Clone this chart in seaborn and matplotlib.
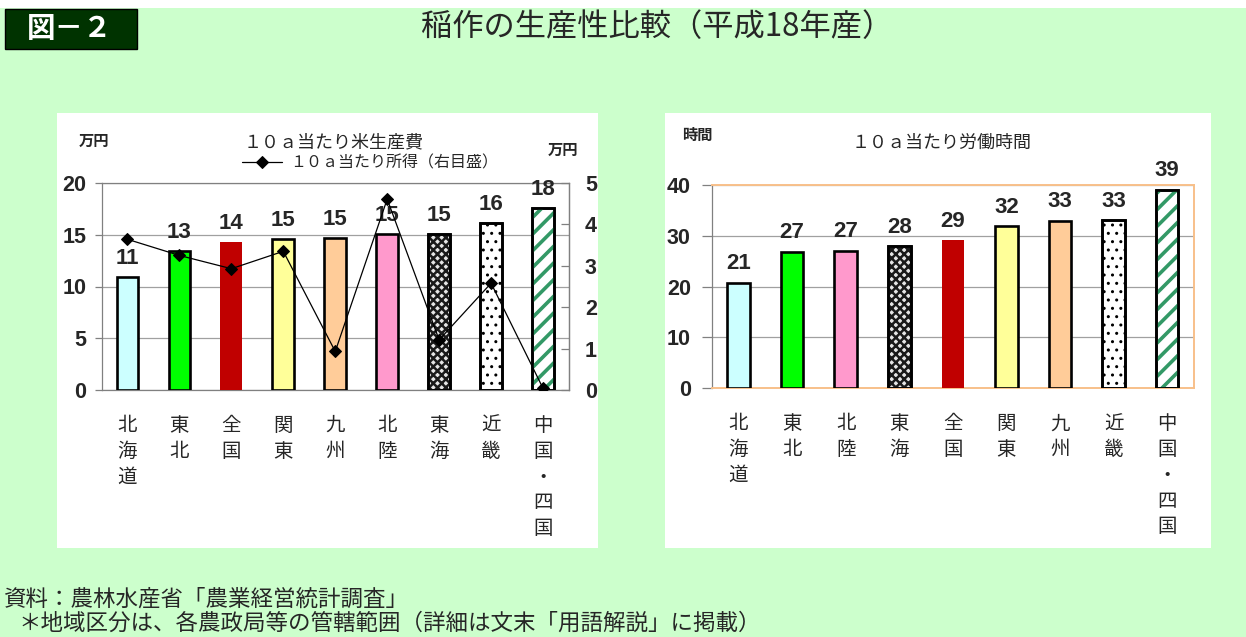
import numpy as np
import pandas as pd
import matplotlib
matplotlib.use("Agg")
import matplotlib as mpl
import matplotlib.pyplot as plt
from matplotlib.patches import Rectangle
import seaborn as sns

# 10a当たり米生産費（万円）と所得（万円・右目盛）、平成18年産
cost_regions = ["北海道", "東北", "全国", "関東", "九州", "北陸", "東海", "近畿", "中国・四国"]
cost_values = [10.9, 13.4, 14.3, 14.6, 14.7, 15.1, 15.1, 16.1, 17.6]
income_values = [3.64, 3.25, 2.93, 3.35, 0.93, 4.61, 1.21, 2.58, 0.04]

# 10a当たり労働時間（時間）
hour_regions = ["北海道", "東北", "北陸", "東海", "全国", "関東", "九州", "近畿", "中国・四国"]
hour_values = [20.8, 26.9, 27.1, 28.0, 29.2, 31.9, 33.0, 33.1, 39.1]

cost_ticks = [0, 5, 10, 15, 20]
income_ticks = [0, 1, 2, 3, 4, 5]
hour_ticks = [0, 10, 20, 30, 40]

W, H = 1246, 637
CJK = ["Noto Sans CJK JP", "DejaVu Sans"]
NUM = ["Liberation Sans", "DejaVu Sans"]

# fill / pattern for each region
STYLE = {
    "北海道": dict(face="#CCFFFF"),
    "東北": dict(face="#00FF00"),
    "全国": dict(face="#C00000", edge="none"),
    "関東": dict(face="#FFFF99"),
    "九州": dict(face="#FFCC99"),
    "北陸": dict(face="#FF99CC"),
    "東海": dict(face="#E6E6E6", hatch="xxxx", hcolor="#1A1A1A", hlw=1.8),
    "近畿": dict(face="#FFFFFF", hatch="..", hcolor="#000000", hlw=1.0),
    "中国・四国": dict(face="#FFFFFF", hatch="//", hcolor="#339966", hlw=2.6),
}

sns.set_style("white")
plt.rcParams["font.family"] = CJK
plt.rcParams["axes.unicode_minus"] = False


def fx(px):
    return px / W


def fy(py):
    return 1 - py / H


def vertical(name):
    return "\n".join(list(name))


def draw_bars(ax, regions, values):
    df = pd.DataFrame({"region": regions, "value": values})
    palette = {r: STYLE[r]["face"] for r in regions}
    sns.barplot(data=df, x="region", y="value", hue="region", order=regions,
                hue_order=regions, palette=palette, saturation=1, width=0.42,
                legend=False, edgecolor="black", linewidth=1.9, zorder=3, ax=ax)
    for p in list(ax.patches):
        i = int(round(p.get_x() + p.get_width() / 2))
        st = STYLE[regions[i]]
        if st.get("edge") == "none":
            p.set_edgecolor("none")
        if "hatch" in st:
            with mpl.rc_context({"hatch.linewidth": st["hlw"]}):
                h = Rectangle(p.get_xy(), p.get_width(), p.get_height(),
                              facecolor="none", edgecolor=st["hcolor"],
                              hatch=st["hatch"], linewidth=0, zorder=3.1)
            if hasattr(h, "set_hatch_linewidth"):
                h.set_hatch_linewidth(st["hlw"])
            ax.add_patch(h)
            ax.add_patch(Rectangle(p.get_xy(), p.get_width(), p.get_height(),
                                   facecolor="none", edgecolor="black",
                                   linewidth=1.9, zorder=3.2))
    for i, v in enumerate(values):
        ax.annotate(f"{v:.0f}", xy=(i, v), xytext=(0, 9.5),
                    textcoords="offset points", ha="center", va="baseline",
                    fontsize=16, fontweight="bold", family=NUM,
                    annotation_clip=False, zorder=6)
    ax.set_xlabel("")
    ax.set_ylabel("")
    ax.set_xticks(range(len(regions)))
    ax.set_xticklabels([vertical(r) for r in regions], fontsize=14,
                       linespacing=1.3, va="top", family=CJK)
    ax.set_xticks(np.arange(-0.5, len(regions), 1), minor=True)
    ax.tick_params(axis="x", which="major", length=0, pad=18)
    ax.tick_params(axis="x", which="minor", length=5, width=0.9,
                   color="#808080", direction="out")
    ax.set_xlim(-0.5, len(regions) - 0.5)
    ax.yaxis.grid(True, color="#A0A0A0", linewidth=0.9)
    ax.set_axisbelow(True)
    ax.set_facecolor("white")


fig = plt.figure(figsize=(W / 100, H / 100), dpi=100)
fig.patch.set_facecolor("white")

# background, panels and header box
fig.add_artist(Rectangle((0, 0), 1, fy(8), transform=fig.transFigure,
                         facecolor="#CCFFCC", edgecolor="none", zorder=-3))
for x0, x1 in [(57, 598), (665, 1211)]:
    fig.add_artist(Rectangle((fx(x0), fy(548)), fx(x1 - x0), (548 - 113) / H,
                             transform=fig.transFigure, facecolor="white",
                             edgecolor="none", zorder=-2))
fig.add_artist(Rectangle((fx(5), fy(49)), fx(132), 40 / H, transform=fig.transFigure,
                         facecolor="#003300", edgecolor="#000000", linewidth=1,
                         zorder=-1))
fig.text(fx(70), fy(29), "図－２", color="white", fontsize=20.5, fontweight="bold",
         ha="center", va="center", family=CJK)
fig.text(fx(657), fy(27), "稲作の生産性比較（平成18年産）", fontsize=22.5,
         ha="center", va="center", family=CJK)

# ---- left chart: production cost and income ----
ax1 = fig.add_axes([fx(101.5), fy(390), fx(467.5), 207 / H])
draw_bars(ax1, cost_regions, cost_values)
ax1.set_ylim(0, 20)
ax1.set_yticks(cost_ticks)
ax1.set_yticklabels([str(t) for t in cost_ticks], fontsize=15.5, fontweight="bold",
                    family=NUM)
ax1.tick_params(axis="y", length=5, width=0.9, color="#808080", pad=6,
                direction="out", left=True)
for s in ax1.spines.values():
    s.set_color("#808080")
    s.set_linewidth(0.9)

ax2 = ax1.twinx()
sns.lineplot(x=np.arange(len(cost_regions)), y=income_values, ax=ax2,
             color="black", linewidth=0.9, marker="D", markersize=6.5,
             markeredgecolor="black", markerfacecolor="black",
             label="１０ａ当たり所得（右目盛）", zorder=5)
ax2.set_ylim(0, 5)
ax2.set_yticks(income_ticks)
ax2.set_yticklabels([str(t) for t in income_ticks], fontsize=15.5, fontweight="bold",
                    family=NUM)
ax2.tick_params(axis="y", length=6, width=0.9, color="#808080", pad=11.5,
                direction="in", right=True)
ax2.set_xlim(-0.5, len(cost_regions) - 0.5)
for s in ax2.spines.values():
    s.set_visible(False)
ax2.spines["right"].set_visible(True)
ax2.spines["right"].set_color("#808080")
ax2.spines["right"].set_linewidth(0.9)
ax2.set_ylabel("")
handles, labels = ax2.get_legend_handles_labels()
if ax2.get_legend() is not None:
    ax2.get_legend().remove()
fig.legend(handles, labels, loc="center left", bbox_to_anchor=(fx(242), fy(163)),
           bbox_transform=fig.transFigure, frameon=False,
           handlelength=2.5, handletextpad=0.5, borderpad=0, borderaxespad=0,
           prop={"family": CJK, "size": 11.5})

fig.text(fx(94), fy(141), "万円", fontsize=11, fontweight="bold", ha="center",
         va="center", family=CJK)
fig.text(fx(334), fy(142), "１０ａ当たり米生産費", fontsize=13, ha="center",
         va="center", family=CJK)
fig.text(fx(563), fy(150), "万円", fontsize=11, fontweight="bold", ha="center",
         va="center", family=CJK)

# ---- right chart: working hours ----
ax3 = fig.add_axes([fx(711.7), fy(388.3), fx(482.3), 203.3 / H])
draw_bars(ax3, hour_regions, hour_values)
ax3.set_ylim(0, 40)
ax3.set_yticks(hour_ticks)
ax3.set_yticklabels([str(t) for t in hour_ticks], fontsize=15.5, fontweight="bold",
                    family=NUM)
ax3.tick_params(axis="y", length=7, width=0.9, color="#808080", pad=8,
                direction="out", left=True)
for k, s in ax3.spines.items():
    s.set_color("#808080" if k == "left" else "#F8C08A")
    s.set_linewidth(0.9 if k == "left" else 1.4)

fig.text(fx(697), fy(135), "時間", fontsize=11, fontweight="bold", ha="center",
         va="center", family=CJK)
fig.text(fx(942), fy(143), "１０ａ当たり労働時間", fontsize=13, ha="center",
         va="center", family=CJK)

# ---- source notes ----
fig.text(fx(4), fy(599), "資料：農林水産省「農業経営統計調査」", fontsize=16.2,
         ha="left", va="center", family=CJK)
fig.text(fx(18), fy(623), "＊地域区分は、各農政局等の管轄範囲（詳細は文末「用語解説」に掲載）",
         fontsize=16.2, ha="left", va="center", family=CJK)

fig.savefig("out.png", dpi=100)
